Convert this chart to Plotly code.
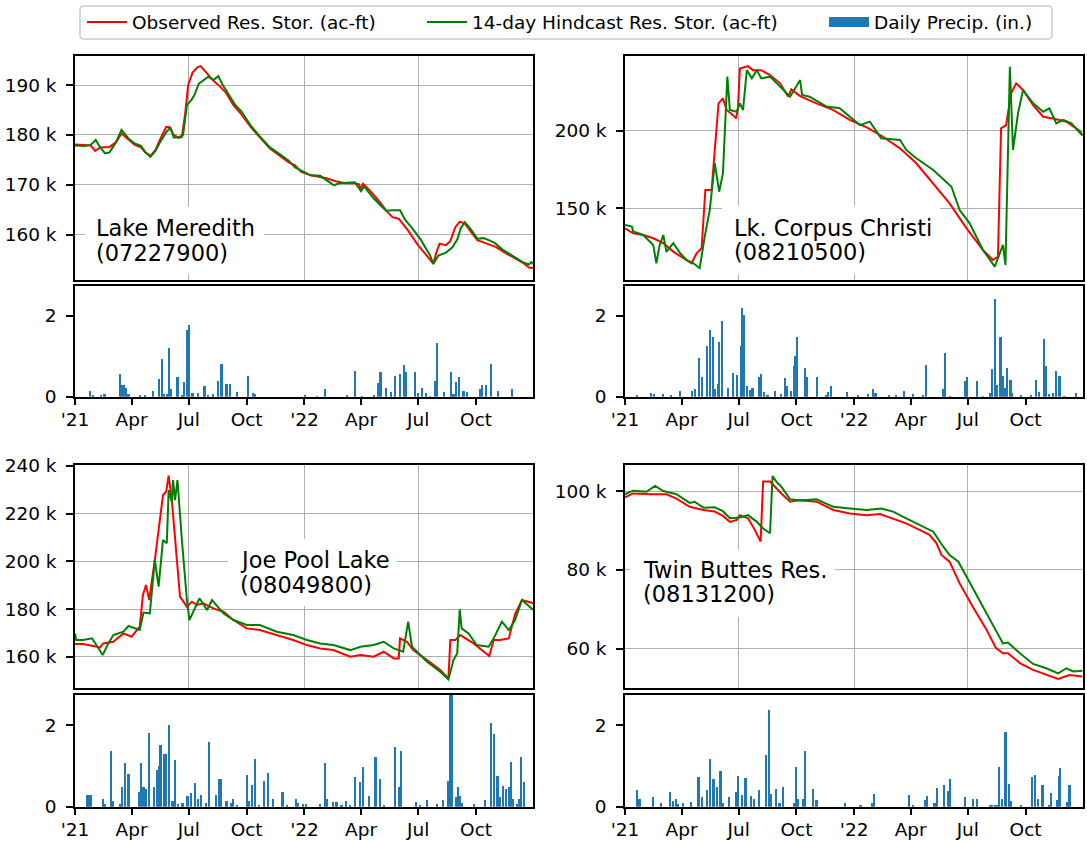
import pandas as pd
import plotly.graph_objects as go

START = pd.Timestamp("2021-01-01")

def to_dates(days):
    return [START + pd.Timedelta(days=d) for d in days]

# ---------------- Lake Meredith (07227900) ----------------
lm_obs_days = [0, 15, 25, 32, 40, 55, 65, 74, 85, 95, 105, 112, 120, 128, 135, 145, 150, 157, 165, 170,
               175, 180, 187, 195, 200, 210, 220, 230, 240, 252, 263, 280, 294, 310, 325, 340, 350, 360,
               375, 390, 400, 415, 430, 445, 452, 454, 458, 470, 485, 495, 505, 515, 530, 545, 560, 570,
               575, 580, 590, 597, 605, 612, 620, 630, 640, 655, 670, 685, 700, 712, 722, 729]
lm_obs = [178.1, 178.0, 177.9, 176.8, 177.5, 177.6, 178.5, 180.3, 179.0, 178.0, 177.5, 176.5, 175.8, 177.0,
          179.0, 181.6, 181.6, 180.0, 179.4, 179.6, 184.0, 190.0, 192.5, 193.6, 193.8, 192.3, 190.9, 189.8,
          188.5, 186.0, 184.4, 181.5, 179.6, 177.3, 175.9, 174.5, 173.9, 172.6, 171.9, 171.6, 171.3, 170.7,
          170.3, 170.3, 170.1, 169.0, 170.2, 168.7, 166.5, 164.8, 163.5, 163.2, 160.8, 158.0, 155.8, 154.2,
          156.5, 158.2, 157.9, 158.7, 161.5, 162.6, 162.2, 160.5, 158.9, 158.2, 157.5, 156.3, 155.2, 154.4,
          153.4, 153.3]
lm_hc_days = [0, 15, 25, 33, 40, 48, 55, 65, 74, 85, 95, 105, 112, 120, 128, 135, 145, 152, 157, 165, 172,
              178, 185, 190, 197, 205, 212, 220, 228, 235, 245, 255, 265, 280, 294, 310, 325, 340, 350, 360,
              375, 390, 400, 412, 420, 430, 445, 455, 460, 466, 475, 485, 495, 505, 517, 525, 535, 550, 565,
              570, 578, 590, 600, 608, 614, 620, 630, 640, 650, 660, 668, 680, 690, 700, 712, 722, 726, 729]
lm_hc = [177.9, 177.8, 178.0, 179.0, 177.5, 176.3, 176.5, 178.5, 181.0, 179.3, 178.3, 177.8, 176.5, 175.6,
         176.8, 178.5, 180.5, 181.5, 179.5, 179.5, 180.0, 186.0, 187.0, 188.0, 190.3, 191.0, 191.7, 191.0,
         191.8, 190.0, 188.0, 186.0, 184.7, 181.8, 179.7, 177.5, 176.2, 174.8, 173.5, 172.9, 171.9, 171.8,
         171.0, 169.9, 170.3, 170.4, 170.5, 168.7, 169.7, 168.7, 167.3, 166.0, 164.8, 164.9, 164.9, 163.0,
         161.5, 159.0, 155.8, 154.1, 155.8, 156.4, 157.4, 159.0, 161.4, 162.5, 161.0, 159.2, 159.3, 158.8,
         158.3, 157.0, 156.2, 155.5, 154.5, 154.0, 154.5, 154.1]
lm_p_days = [24, 29, 42, 47, 71, 75, 78, 81, 85, 103, 111, 124, 134, 138, 142, 146, 150, 153, 163, 170, 174,
             179, 182, 187, 195, 206, 212, 219, 228, 233, 241, 247, 257, 275, 283, 286, 366, 385, 398, 433,
             445, 456, 476, 482, 486, 495, 502, 509, 517, 523, 526, 541, 546, 552, 559, 565, 573, 576, 587,
             598, 602, 606, 611, 618, 623, 644, 647, 654, 662, 673, 695]
lm_p = [0.14, 0.04, 0.04, 0.07, 0.58, 0.30, 0.29, 0.21, 0.07, 0.04, 0.04, 0.16, 0.44, 0.95, 0.08, 0.07, 1.20,
        0.19, 0.49, 0.04, 0.36, 1.65, 1.77, 0.10, 0.09, 0.26, 0.03, 0.07, 0.39, 0.81, 0.31, 0.31, 0.12, 0.53,
        0.09, 0.07, 0.04, 0.02, 0.19, 0.04, 0.63, 0.02, 0.04, 0.34, 0.61, 0.21, 0.12, 0.51, 0.58, 0.78, 0.61,
        0.61, 0.09, 0.21, 0.09, 0.02, 0.39, 1.33, 0.12, 0.61, 0.07, 0.36, 0.49, 0.14, 0.12, 0.19, 0.29, 0.29,
        0.81, 0.16, 0.19]

# ---------------- Lk. Corpus Christi (08210500) ----------------
cc_obs_days = [0, 13, 29, 45, 61, 77, 93, 106, 114, 122, 128, 138, 143, 149, 156, 162, 172, 177, 180, 183,
               196, 204, 217, 231, 247, 260, 265, 279, 305, 332, 358, 385, 411, 438, 464, 491, 517, 544, 570,
               586, 594, 599, 607, 615, 623, 634, 650, 666, 682, 703, 724, 729]
cc_obs = [137.1, 133.9, 132.8, 130.7, 127.5, 122.1, 117.8, 114.6, 121.0, 124.2, 161.8, 161.8, 187.6, 217.6,
          220.8, 213.3, 210.0, 207.9, 215.0, 240.1, 241.6, 239.0, 239.0, 235.8, 230.5, 221.9, 226.6, 222.3,
          217.6, 213.3, 206.9, 202.1, 196.1, 188.6, 179.0, 166.1, 153.2, 137.1, 123.2, 116.7, 118.9, 201.5,
          203.6, 224.0, 230.5, 226.2, 216.5, 209.0, 207.9, 205.8, 200.0, 197.2]
cc_hc_days = [0, 11, 13, 29, 45, 50, 55, 61, 66, 77, 88, 98, 109, 119, 127, 135, 143, 150, 156, 163, 167,
              178, 183, 188, 194, 202, 210, 217, 231, 247, 263, 279, 282, 294, 321, 342, 374, 390, 408, 438,
              448, 464, 491, 520, 533, 549, 570, 589, 602, 606, 613, 618, 626, 634, 650, 666, 676, 687, 698,
              711, 729]
cc_hc = [139.3, 138.2, 135.0, 132.8, 126.4, 114.6, 126.0, 132.8, 122.0, 127.5, 121.0, 116.7, 114.6, 111.4,
         131.8, 148.9, 179.0, 160.7, 172.5, 234.8, 213.3, 212.2, 217.6, 213.3, 239.0, 233.7, 239.0, 233.7,
         234.8, 228.3, 221.9, 232.6, 223.0, 221.9, 215.5, 214.4, 203.6, 205.8, 195.1, 194.0, 187.6, 182.2,
         174.7, 163.9, 148.9, 140.3, 123.2, 112.4, 126.4, 113.5, 241.2, 187.6, 211.2, 226.2, 217.6, 212.2,
         214.4, 204.7, 206.9, 204.7, 196.6]
cc_p_days = [19, 41, 46, 60, 73, 88, 107, 112, 118, 122, 130, 135, 140, 143, 149, 150, 154, 164, 172, 178,
             185, 187, 190, 194, 199, 203, 213, 216, 221, 227, 239, 249, 255, 258, 264, 269, 271, 274, 286,
             289, 306, 321, 324, 328, 353, 371, 387, 395, 399, 421, 432, 445, 459, 474, 480, 506, 509, 518,
             542, 545, 560, 570, 581, 585, 589, 592, 598, 602, 605, 609, 614, 617, 631, 647, 655, 659, 667,
             671, 675, 681, 686, 692, 700, 718]
cc_p = [0.03, 0.11, 0.08, 0.08, 0.06, 0.14, 0.16, 0.19, 0.97, 0.50, 1.27, 1.66, 1.49, 0.19, 0.33, 1.37, 1.88,
        0.23, 0.60, 0.55, 1.27, 2.20, 2.03, 0.28, 0.18, 0.23, 0.50, 0.58, 0.13, 0.06, 0.16, 0.08, 0.48, 0.28,
        0.16, 0.77, 1.02, 1.49, 0.72, 0.50, 0.50, 0.06, 0.13, 0.28, 0.13, 0.03, 0.08, 0.20, 0.11, 0.03, 0.03,
        0.16, 0.08, 0.03, 0.80, 0.20, 1.09, 0.02, 0.39, 0.50, 0.40, 0.02, 0.11, 0.70, 2.43, 0.30, 1.47, 0.53,
        0.23, 0.72, 0.43, 0.11, 0.03, 0.03, 0.43, 0.13, 1.42, 0.77, 0.08, 0.11, 0.63, 0.53, 0.02, 0.11]

# ---------------- Joe Pool Lake (08049800) ----------------
jp_obs_days = [0, 13, 29, 40, 45, 61, 77, 90, 103, 108, 113, 118, 127, 135, 140, 145, 149, 154, 161, 167,
               178, 186, 194, 204, 220, 236, 252, 273, 294, 321, 347, 369, 390, 411, 438, 454, 475, 491, 507,
               515, 517, 528, 538, 560, 581, 594, 597, 605, 613, 634, 659, 666, 676, 690, 700, 711, 729]
jp_obs = [165.3, 165.3, 164.5, 163.9, 165.6, 166.3, 169.8, 168.4, 172.6, 185.9, 190.1, 183.8, 200.6, 218.0,
          227.8, 229.2, 235.9, 225.7, 204.8, 185.2, 181.0, 183.1, 181.7, 182.4, 180.3, 178.9, 175.4, 171.9,
          171.2, 169.1, 167.0, 164.9, 163.5, 162.8, 160.0, 160.7, 160.0, 162.1, 159.3, 159.3, 167.7, 166.3,
          162.8, 158.6, 154.4, 150.9, 167.0, 167.0, 169.1, 165.6, 160.3, 167.0, 167.0, 167.7, 177.9, 183.8,
          182.4]
jp_hc_days = [0, 2, 13, 27, 34, 44, 53, 61, 77, 85, 103, 109, 119, 127, 133, 140, 146, 149, 154, 156, 159,
              163, 170, 178, 182, 188, 198, 210, 218, 236, 252, 273, 294, 321, 347, 369, 390, 411, 438, 454,
              475, 491, 507, 522, 530, 536, 560, 581, 594, 602, 608, 612, 615, 626, 639, 658, 666, 679, 690,
              700, 711, 729]
jp_hc = [169.8, 167.0, 167.0, 167.7, 164.9, 160.7, 165.6, 169.1, 170.5, 172.9, 171.2, 178.5, 178.2, 200.6,
         189.4, 209.0, 207.6, 229.9, 225.0, 234.1, 225.7, 234.1, 209.0, 183.8, 175.4, 178.9, 184.5, 179.6,
         183.8, 178.2, 175.4, 173.3, 173.3, 170.5, 169.1, 167.0, 165.6, 164.9, 162.8, 164.2, 164.9, 166.3,
         163.5, 162.1, 174.7, 164.2, 157.9, 153.7, 150.5, 158.6, 161.4, 179.9, 171.9, 169.8, 164.9, 164.2,
         167.7, 174.7, 171.2, 175.4, 183.8, 179.6]
jp_p_days = [19, 21, 24, 26, 45, 48, 57, 60, 72, 75, 80, 85, 102, 105, 109, 113, 118, 125, 130, 133, 136,
             141, 145, 150, 155, 159, 164, 171, 179, 185, 191, 195, 201, 208, 213, 224, 229, 232, 241, 248,
             251, 257, 273, 277, 282, 286, 292, 300, 307, 315, 330, 337, 352, 355, 363, 368, 390, 398, 401,
             411, 416, 424, 431, 438, 445, 453, 458, 467, 478, 485, 491, 509, 515, 519, 542, 549, 560, 576,
             586, 593, 597, 600, 606, 609, 613, 615, 634, 652, 662, 666, 672, 676, 681, 686, 690, 694, 697,
             703, 707, 709, 714]
jp_p = [0.28, 0.28, 0.28, 0.28, 0.20, 0.07, 1.37, 0.13, 0.07, 0.48, 1.07, 0.80, 0.35, 1.07, 0.48, 0.43,
        1.81, 0.49, 0.90, 1.00, 1.51, 1.29, 1.29, 2.01, 0.13, 1.14, 0.06, 0.08, 0.26, 0.33, 0.58, 0.18,
        0.28, 0.08, 1.59, 0.28, 0.67, 0.67, 0.13, 0.08, 0.18, 0.03, 0.77, 0.13, 0.53, 1.17, 0.03, 0.63,
        0.82, 0.19, 0.35, 0.03, 0.18, 0.08, 0.06, 0.06, 0.06, 1.07, 0.18, 0.11, 0.11, 0.03, 0.13, 0.03,
        0.72, 0.60, 0.97, 0.26, 1.22, 0.67, 0.03, 1.47, 0.48, 1.37, 0.11, 0.03, 0.16, 0.06, 0.16, 0.63,
        2.74, 2.74, 0.23, 0.48, 0.26, 0.08, 0.06, 0.16, 2.06, 1.79, 0.75, 0.23, 0.50, 0.43, 0.48, 1.09,
        0.20, 0.06, 0.18, 1.22, 0.60]

# ---------------- Twin Buttes Res. (08131200) ----------------
tb_obs_days = [0, 13, 40, 66, 82, 103, 125, 143, 156, 167, 178, 183, 196, 207, 216, 220, 231, 236, 249, 263,
               279, 305, 332, 358, 385, 406, 427, 448, 470, 485, 496, 504, 517, 533, 554, 576, 591, 602, 610,
               629, 650, 671, 690, 708, 727, 729]
tb_obs = [98.4, 99.4, 99.2, 99.2, 98.1, 96.0, 95.2, 94.8, 93.7, 92.2, 92.7, 93.9, 93.1, 90.1, 87.2, 102.4,
          102.4, 101.5, 99.4, 97.3, 97.7, 97.3, 95.2, 94.3, 93.9, 94.2, 93.1, 91.8, 90.1, 88.9, 86.8, 83.8,
          82.1, 76.6, 70.7, 64.8, 60.2, 58.9, 58.9, 56.4, 54.7, 53.4, 52.4, 53.4, 53.0, 53.0]
tb_hc_days = [0, 13, 34, 48, 61, 82, 103, 111, 125, 143, 156, 167, 183, 196, 210, 220, 231, 235, 241, 249,
              263, 279, 305, 332, 358, 385, 408, 427, 448, 470, 491, 507, 517, 531, 544, 565, 586, 602, 610,
              629, 650, 671, 690, 703, 714, 727, 729]
tb_hc = [99.2, 100.1, 99.8, 101.3, 100.0, 99.2, 97.0, 97.3, 95.8, 95.9, 94.9, 93.1, 93.3, 93.9, 92.2, 90.5,
         89.3, 103.8, 102.4, 101.1, 97.9, 97.6, 97.9, 96.0, 95.6, 95.2, 95.6, 94.8, 93.1, 91.4, 89.7, 85.9,
         83.8, 82.1, 78.3, 72.4, 66.1, 61.4, 61.6, 58.9, 56.2, 55.1, 53.8, 55.1, 54.3, 54.5, 54.5]
tb_p_days = [19, 23, 44, 58, 72, 76, 81, 85, 92, 105, 117, 122, 130, 136, 141, 147, 152, 156, 166, 177, 180,
             186, 192, 201, 206, 213, 224, 229, 232, 240, 246, 251, 269, 273, 276, 284, 286, 299, 305, 351,
             375, 394, 397, 453, 459, 478, 481, 493, 497, 508, 515, 518, 542, 554, 561, 581, 585, 589, 592,
             595, 600, 606, 611, 614, 631, 648, 653, 658, 665, 676, 679, 688, 691, 693, 704, 708]
tb_p = [0.41, 0.20, 0.23, 0.08, 0.35, 0.13, 0.20, 0.06, 0.08, 0.11, 0.72, 0.23, 0.41, 1.17, 0.67, 0.48,
        0.87, 0.08, 0.23, 0.36, 0.75, 0.28, 0.70, 0.26, 0.18, 0.41, 1.27, 2.37, 0.30, 0.43, 0.10, 0.48,
        0.08, 0.97, 0.20, 0.19, 1.37, 0.43, 0.16, 0.08, 0.03, 0.08, 0.30, 0.28, 0.03, 0.16, 0.26, 0.08,
        0.45, 0.54, 0.38, 0.67, 0.23, 0.18, 0.18, 0.03, 0.03, 0.03, 0.03, 0.97, 0.18, 1.84, 0.55, 0.13,
        0.03, 0.72, 0.77, 0.18, 0.53, 0.03, 0.33, 0.16, 0.75, 0.95, 0.11, 0.53]

# ---------------- panel metadata ----------------
panel_line1 = ["Lake Meredith", "Lk. Corpus Christi", "Joe Pool Lake", "Twin Buttes Res."]
panel_line2 = ["(07227900)", "(08210500)", "(08049800)", "(08131200)"]
stor_ranges = [[150.9, 195.9], [103.8, 248.3], [146.9, 240.4], [50.1, 106.6]]
stor_ticks = [[160, 170, 180, 190], [150, 200], [160, 180, 200, 220, 240], [60, 80, 100]]
precip_range = [0, 2.74]
precip_ticks = [0, 2]

xtick_vals = ["2021-01-01", "2021-04-01", "2021-07-01", "2021-10-01",
              "2022-01-01", "2022-04-01", "2022-07-01", "2022-10-01"]
xtick_text = ["'21", "Apr", "Jul", "Oct", "'22", "Apr", "Jul", "Oct"]
stor_grid_vals = ["2021-07-01", "2022-01-01", "2022-07-01"]
x_range = ["2021-01-01", "2022-12-31"]

series = [
    (lm_obs_days, lm_obs, lm_hc_days, lm_hc, lm_p_days, lm_p),
    (cc_obs_days, cc_obs, cc_hc_days, cc_hc, cc_p_days, cc_p),
    (jp_obs_days, jp_obs, jp_hc_days, jp_hc, jp_p_days, jp_p),
    (tb_obs_days, tb_obs, tb_hc_days, tb_hc, tb_p_days, tb_p),
]

# The page body margin is removed (post_script), so the figure fills the window exactly.
W, H = 1087, 841
FONT = "DejaVu Sans"
TICK_FS = 18.5

def fx(xv):
    return xv / W

def fy(yv):
    return 1 - yv / H

x_doms = [[fx(75), fx(533.3)], [fx(625), fx(1082.7)]]
stor_ydoms = [[fy(280), fy(55.7)], [fy(688), fy(465)]]
prec_ydoms = [[fy(396.7), fy(285.7)], [fy(806.7), fy(695)]]
# label layout in reference px: text left x, line1 y, line2 y, box (x0, x1, y0, y1)
label_text_pos = [(95, 228, 253), (733, 228, 252), (238.5, 560, 585), (642, 570, 594)]
label_boxes = [(85, 264, 207, 274), (722, 940, 206, 274), (228, 397, 539, 606), (630, 835, 550, 617)]

fig = go.Figure()
layout = {}
bar_w = 3.4 * 86400000

for i, (od, ov, hd, hv, pd_, pv) in enumerate(series):
    col = i % 2
    row = i // 2
    xs = 2 * i + 1
    xp = 2 * i + 2
    first = i == 0
    fig.add_trace(go.Scatter(x=to_dates(od), y=ov, mode="lines", line=dict(color="red", width=2),
                             name="Observed Res. Stor. (ac-ft)", showlegend=first, legend="legend",
                             xaxis=f"x{xs}", yaxis=f"y{xs}"))
    fig.add_trace(go.Scatter(x=to_dates(hd), y=hv, mode="lines", line=dict(color="green", width=2),
                             name="14-day Hindcast Res. Stor. (ac-ft)", showlegend=first, legend="legend2",
                             xaxis=f"x{xs}", yaxis=f"y{xs}"))
    fig.add_trace(go.Bar(x=to_dates(pd_), y=pv, width=bar_w, marker=dict(color="#1f77b4", line_width=0),
                         name="Daily Precip. (in.)", showlegend=False,
                         xaxis=f"x{xp}", yaxis=f"y{xp}"))

    common_axis = dict(showline=True, linecolor="black", linewidth=1.5, mirror=True, automargin=False,
                       tickfont=dict(family=FONT, size=TICK_FS, color="black"), zeroline=False)
    layout[f"xaxis{xs}"] = dict(common_axis, domain=x_doms[col], range=x_range, type="date",
                                anchor=f"y{xs}", tickmode="array", tickvals=stor_grid_vals,
                                showticklabels=False, ticks="", showgrid=True,
                                gridcolor="#b0b0b0", gridwidth=1)
    layout[f"yaxis{xs}"] = dict(common_axis, domain=stor_ydoms[row], range=stor_ranges[i],
                                anchor=f"x{xs}", tickmode="array", tickvals=stor_ticks[i],
                                ticktext=[f"{v} k" for v in stor_ticks[i]],
                                ticks="outside", ticklen=7, tickwidth=1.5, tickcolor="black",
                                showgrid=True, gridcolor="#b0b0b0", gridwidth=1,
                                ticklabelstandoff=6)
    layout[f"xaxis{xp}"] = dict(common_axis, domain=x_doms[col], range=x_range, type="date",
                                anchor=f"y{xp}", tickmode="array", tickvals=xtick_vals,
                                ticktext=xtick_text, ticks="outside", ticklen=7, tickwidth=1.5,
                                tickcolor="black", showgrid=False, ticklabelstandoff=-2)
    layout[f"yaxis{xp}"] = dict(common_axis, domain=prec_ydoms[row], range=precip_range,
                                anchor=f"x{xp}", tickmode="array", tickvals=precip_ticks,
                                ticks="outside", ticklen=7, tickwidth=1.5, tickcolor="black",
                                showgrid=False, ticklabelstandoff=6)

# legend-only entry for the precipitation bars (drawn as a wide swatch like the reference)
fig.add_trace(go.Scatter(x=[None], y=[None], mode="lines", line=dict(color="#1f77b4", width=13),
                         name="Daily Precip. (in.)", legend="legend3", xaxis="x2", yaxis="y2",
                         hoverinfo="skip"))

annotations = []
shapes = []
for i in range(4):
    tx, y1, y2 = label_text_pos[i]
    bx0, bx1, by0, by1 = label_boxes[i]
    shapes.append(dict(type="rect", xref="paper", yref="paper", x0=fx(bx0), x1=fx(bx1),
                       y0=fy(by1), y1=fy(by0), fillcolor="white", line_width=0, layer="above"))
    for txt, ty in ((panel_line1[i], y1), (panel_line2[i], y2)):
        annotations.append(dict(text=txt, xref="paper", yref="paper", x=fx(tx), y=fy(ty),
                                xanchor="left", yanchor="middle", align="left", showarrow=False,
                                font=dict(family=FONT, size=22.5, color="black"), borderpad=0))

# legend frame with rounded corners
lx0, lx1, ly0, ly1, r = 80, 1052, 6, 39, 4
frame = (f"M{fx(lx0 + r)},{fy(ly0)} L{fx(lx1 - r)},{fy(ly0)} Q{fx(lx1)},{fy(ly0)} {fx(lx1)},{fy(ly0 + r)} "
         f"L{fx(lx1)},{fy(ly1 - r)} Q{fx(lx1)},{fy(ly1)} {fx(lx1 - r)},{fy(ly1)} "
         f"L{fx(lx0 + r)},{fy(ly1)} Q{fx(lx0)},{fy(ly1)} {fx(lx0)},{fy(ly1 - r)} "
         f"L{fx(lx0)},{fy(ly0 + r)} Q{fx(lx0)},{fy(ly0)} {fx(lx0 + r)},{fy(ly0)} Z")
shapes.append(dict(type="path", path=frame, xref="paper", yref="paper",
                   line=dict(color="#cccccc", width=1.5), fillcolor="rgba(0,0,0,0)", layer="above"))

leg_common = dict(orientation="h", yanchor="middle", y=fy(22.5), xanchor="left",
                  bgcolor="rgba(0,0,0,0)", borderwidth=0, itemwidth=40,
                  font=dict(family=FONT, size=TICK_FS, color="black"))

fig.update_layout(
    width=W, height=H,
    margin=dict(l=0, r=0, t=0, b=0, autoexpand=False),
    paper_bgcolor="white", plot_bgcolor="white",
    font=dict(family=FONT, size=TICK_FS, color="black"),
    bargap=0,
    hovermode=False,
    showlegend=True,
    legend=dict(leg_common, x=fx(88 - 6)),
    legend2=dict(leg_common, x=fx(428 - 6)),
    legend3=dict(leg_common, x=fx(830 - 6)),
    annotations=annotations,
    shapes=shapes,
    **layout,
)

fig.write_html("out.html",
               config={"displayModeBar": False},
               post_script="document.body.style.margin='0px'; document.body.style.overflow='hidden';")
